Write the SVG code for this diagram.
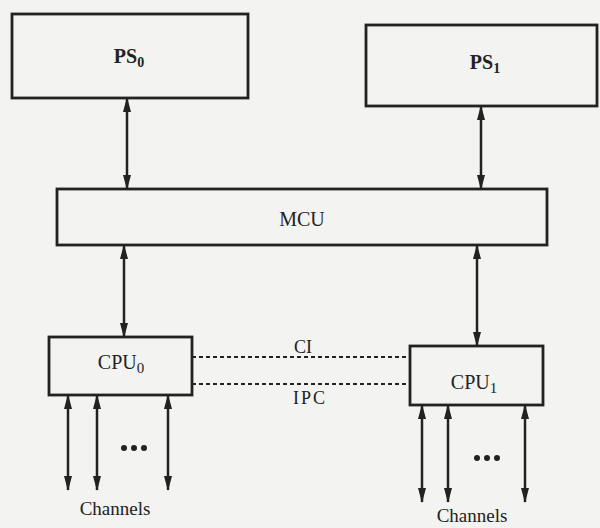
<svg xmlns="http://www.w3.org/2000/svg" width="600" height="528" viewBox="0 0 600 528">
  <defs>
    <marker id="ah" viewBox="0 0 15 8" refX="14" refY="4" markerWidth="15" markerHeight="8" markerUnits="userSpaceOnUse" orient="auto-start-reverse">
      <path d="M0,0 L15,4 L0,8 z" fill="#222"/>
    </marker>
  </defs>
  <style>
    .box { fill: none; stroke: #222; stroke-width: 2.8; }
    .lbl { font-family: "Liberation Serif", "Times New Roman", serif; fill: #222; text-anchor: middle; }
    .arr { stroke: #222; stroke-width: 2.5; fill: none; marker-start: url(#ah); marker-end: url(#ah); }
    .dash { stroke: #222; stroke-width: 2; stroke-dasharray: 4 3; fill: none; }
    .dot { fill: #222; }
  </style>
  <rect width="600" height="528" fill="#f3f3f1"/>

  <g id="PS0">
    <rect class="box" x="12" y="14" width="236" height="84"/>
    <text class="lbl" x="129" y="63" font-size="20" font-weight="bold">PS<tspan font-size="14" dy="4">0</tspan></text>
  </g>
  <g id="PS1">
    <rect class="box" x="366" y="25" width="231" height="81"/>
    <text class="lbl" x="485" y="69" font-size="20" font-weight="bold">PS<tspan font-size="14" dy="4">1</tspan></text>
  </g>
  <g id="MCU">
    <rect class="box" x="57" y="189" width="490" height="56"/>
    <text class="lbl" x="302" y="226" font-size="20">MCU</text>
  </g>
  <g id="CPU0">
    <rect class="box" x="49" y="337" width="143" height="58"/>
    <text class="lbl" x="121" y="369" font-size="20">CPU<tspan font-size="15" dy="4">0</tspan></text>
  </g>
  <g id="CPU1">
    <rect class="box" x="410" y="346" width="133" height="59"/>
    <text class="lbl" x="474" y="389" font-size="20">CPU<tspan font-size="15" dy="4">1</tspan></text>
  </g>

  <g id="connectors">
    <line class="arr" x1="127" y1="98" x2="127" y2="189"/>
    <line class="arr" x1="481" y1="106" x2="481" y2="189"/>
    <line class="arr" x1="124" y1="245" x2="124" y2="337"/>
    <line class="arr" x1="477" y1="245" x2="477" y2="346"/>

    <line class="dash" x1="192" y1="357" x2="410" y2="357"/>
    <line class="dash" x1="192" y1="384" x2="410" y2="384"/>
    <text class="lbl" x="303" y="353" font-size="18">CI</text>
    <text class="lbl" x="310" y="404" font-size="18" letter-spacing="2">IPC</text>

    <line class="arr" x1="68" y1="395" x2="68" y2="490"/>
    <line class="arr" x1="97" y1="395" x2="97" y2="490"/>
    <line class="arr" x1="168" y1="395" x2="168" y2="490"/>
    <line class="arr" x1="422" y1="405" x2="422" y2="502"/>
    <line class="arr" x1="448" y1="405" x2="448" y2="502"/>
    <line class="arr" x1="525" y1="405" x2="525" y2="502"/>
  </g>

  <g id="dots0">
    <circle class="dot" cx="124" cy="448" r="3"/>
    <circle class="dot" cx="134" cy="448" r="3"/>
    <circle class="dot" cx="144" cy="448" r="3"/>
  </g>
  <g id="dots1">
    <circle class="dot" cx="477" cy="458" r="3"/>
    <circle class="dot" cx="487" cy="458" r="3"/>
    <circle class="dot" cx="497" cy="458" r="3"/>
  </g>

  <text class="lbl" x="115" y="515" font-size="19">Channels</text>
  <text class="lbl" x="472" y="522" font-size="19">Channels</text>
</svg>
